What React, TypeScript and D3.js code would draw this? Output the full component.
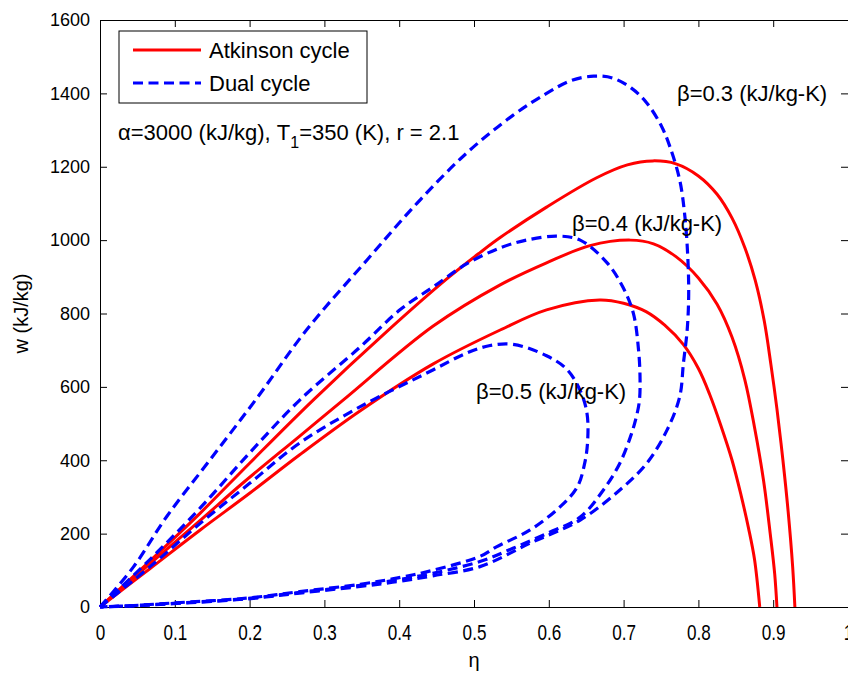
import { useRef, useEffect } from "react";
import * as d3 from "d3";

type Pt = [number, number];

// axis ticks
const xTicks = [0, 0.1, 0.2, 0.3, 0.4, 0.5, 0.6, 0.7, 0.8, 0.9, 1];
const yTicks = [0, 200, 400, 600, 800, 1000, 1200, 1400, 1600];

// Atkinson cycle, [eta, w]
const atkinson03: Pt[] = [
  [0, 0], [0.067, 126], [0.134, 256], [0.2, 392], [0.285, 564], [0.384, 752],
  [0.464, 895], [0.508, 966], [0.535, 1007], [0.597, 1090], [0.664, 1170],
  [0.705, 1205], [0.739, 1216], [0.77, 1208], [0.8, 1175], [0.825, 1125],
  [0.845, 1060], [0.862, 980], [0.876, 890], [0.888, 780], [0.897, 660],
  [0.905, 540], [0.913, 400], [0.92, 260], [0.926, 110], [0.929, 0],
];
const atkinson04: Pt[] = [
  [0, 0], [0.067, 118], [0.134, 236], [0.191, 338], [0.267, 466], [0.325, 564],
  [0.445, 765], [0.535, 878], [0.597, 938], [0.655, 985], [0.709, 1000],
  [0.74, 990], [0.77, 955], [0.8, 897], [0.825, 825], [0.845, 735],
  [0.862, 620], [0.875, 490], [0.887, 346], [0.896, 200], [0.902, 90],
  [0.905, 0],
];
const atkinson05: Pt[] = [
  [0, 0], [0.067, 105], [0.134, 210], [0.2, 310], [0.267, 415], [0.348, 535],
  [0.445, 662], [0.535, 755], [0.597, 810], [0.668, 837], [0.7, 828],
  [0.73, 805], [0.755, 768], [0.78, 715], [0.8, 650], [0.815, 580],
  [0.83, 495], [0.845, 400], [0.857, 305], [0.867, 215], [0.875, 130],
  [0.882, 0],
];

// Dual cycle loops, [eta, w]
const dual03: Pt[] = [
  [0, 0], [0.045, 110], [0.089, 246], [0.147, 401], [0.21, 570], [0.276, 755],
  [0.357, 946], [0.424, 1101], [0.49, 1237], [0.552, 1340], [0.597, 1400],
  [0.63, 1435], [0.66, 1447], [0.685, 1442], [0.71, 1415], [0.731, 1374],
  [0.751, 1309], [0.762, 1254], [0.775, 1164], [0.782, 1063], [0.786, 946],
  [0.787, 850], [0.785, 755], [0.78, 665], [0.775, 573], [0.758, 482],
  [0.731, 392], [0.695, 319], [0.642, 237], [0.575, 174], [0.508, 110],
  [0.445, 85], [0.4, 70], [0.348, 56], [0.267, 38], [0.196, 22], [0.098, 9],
  [0.045, 3], [0, 0],
];
const dual04: Pt[] = [
  [0, 0], [0.067, 130], [0.134, 270], [0.2, 420], [0.267, 564], [0.348, 709],
  [0.401, 810], [0.445, 872], [0.49, 935], [0.535, 979], [0.57, 1000],
  [0.611, 1011], [0.642, 1000], [0.678, 938], [0.699, 872], [0.713, 801],
  [0.72, 700], [0.722, 620], [0.721, 560], [0.716, 510], [0.709, 463],
  [0.695, 392], [0.673, 319], [0.642, 245], [0.597, 200], [0.552, 160],
  [0.508, 124], [0.445, 92], [0.4, 75], [0.348, 59], [0.267, 40], [0.196, 23],
  [0.098, 10], [0.045, 4], [0, 0],
];
const dual05: Pt[] = [
  [0, 0], [0.067, 110], [0.134, 228], [0.2, 337], [0.267, 447], [0.348, 546],
  [0.445, 646], [0.49, 692], [0.52, 712], [0.552, 716], [0.597, 685],
  [0.624, 648], [0.642, 590], [0.651, 529], [0.652, 455], [0.648, 392],
  [0.638, 327], [0.615, 273], [0.575, 210], [0.53, 164], [0.508, 138],
  [0.445, 100], [0.4, 80], [0.348, 62], [0.267, 42], [0.196, 24], [0.098, 11],
  [0.045, 4], [0, 0],
];

const legendLabels = ["Atkinson cycle", "Dual cycle"];

const W = 848;
const H = 675;
const FONT = "'Liberation Sans', Arial, Helvetica, sans-serif";

export default function App() {
  const svgRef = useRef<SVGSVGElement>(null);

  useEffect(() => {
    const svg = d3.select(svgRef.current);
    svg.selectAll("*").remove();

    const x = d3.scaleLinear().domain([0, 1]).range([100, 848]);
    const y = d3.scaleLinear().domain([0, 1600]).range([607, 20]);

    svg.append("rect").attr("width", W).attr("height", H).attr("fill", "#fff");

    // axes (MATLAB style box with inward ticks)
    const styleAxis = (g: any) => {
      g.select(".domain").attr("stroke", "#000").attr("stroke-width", 1);
      g.selectAll(".tick line").attr("stroke", "#000").attr("stroke-width", 1);
      g.attr("font-family", FONT).attr("font-size", 18);
      g.selectAll(".tick text").attr("fill", "#000");
    };

    svg.append("g")
      .attr("transform", `translate(0,${y(0)})`)
      .call(d3.axisBottom(x).tickValues(xTicks).tickSize(-7).tickSizeOuter(0).tickPadding(13).tickFormat((d: any) => String(d)))
      .call(styleAxis)
      .call((g: any) =>
        g.selectAll(".tick text")
          .attr("y", 0)
          .attr("dy", null)
          .attr("transform", "translate(0,33) scale(0.95,1.22)")
      );
    svg.append("g")
      .attr("transform", `translate(0,${y(1600)})`)
      .call(d3.axisTop(x).tickValues(xTicks).tickSize(-7).tickSizeOuter(0).tickFormat(() => ""))
      .call(styleAxis);
    svg.append("g")
      .attr("transform", `translate(${x(0)},0)`)
      .call(d3.axisLeft(y).tickValues(yTicks).tickSize(-7).tickSizeOuter(0).tickPadding(10).tickFormat((d: any) => String(d)))
      .call(styleAxis);
    svg.append("g")
      .attr("transform", `translate(${x(1)},0)`)
      .call(d3.axisRight(y).tickValues(yTicks).tickSize(-7).tickSizeOuter(0).tickFormat(() => ""))
      .call(styleAxis);

    const line = d3.line<Pt>()
      .x((d) => x(d[0]))
      .y((d) => y(d[1]))
      .curve(d3.curveCatmullRom.alpha(0.5));

    [atkinson03, atkinson04, atkinson05].forEach((data) => {
      svg.append("path")
        .attr("d", line(data))
        .attr("fill", "none")
        .attr("stroke", "#ff0000")
        .attr("stroke-width", 3)
        .attr("stroke-linejoin", "round");
    });
    [dual03, dual04, dual05].forEach((data) => {
      svg.append("path")
        .attr("d", line(data))
        .attr("fill", "none")
        .attr("stroke", "#0000ff")
        .attr("stroke-width", 3.2)
        .attr("stroke-dasharray", "10,5.5");
    });

    // legend
    const lg = svg.append("g");
    lg.append("rect")
      .attr("x", 119).attr("y", 31).attr("width", 248).attr("height", 72)
      .attr("fill", "#fff").attr("stroke", "#000").attr("stroke-width", 1);
    legendLabels.forEach((label, i) => {
      const ly = 50 + i * 33;
      lg.append("line")
        .attr("x1", 133).attr("x2", 201).attr("y1", ly).attr("y2", ly)
        .attr("stroke", i === 0 ? "#ff0000" : "#0000ff")
        .attr("stroke-width", 3)
        .attr("stroke-dasharray", i === 0 ? null : "10,5.5");
      lg.append("text")
        .attr("x", 209).attr("y", ly + 8)
        .attr("font-family", FONT).attr("font-size", 22)
        .text(label);
    });

    // annotations
    const ann = svg.append("text")
      .attr("x", 118).attr("y", 140)
      .attr("font-family", FONT).attr("font-size", 22);
    ann.append("tspan").text("α=3000 (kJ/kg), T");
    ann.append("tspan").attr("dy", 8).attr("font-size", 16).text("1");
    ann.append("tspan").attr("dy", -8).text("=350 (K), r = 2.1");

    const betaLabels: [string, number, number][] = [
      ["β=0.3 (kJ/kg-K)", 677, 101],
      ["β=0.4 (kJ/kg-K)", 572, 231],
      ["β=0.5 (kJ/kg-K)", 476, 399],
    ];
    betaLabels.forEach(([t, tx, ty]) => {
      svg.append("text")
        .attr("x", tx).attr("y", ty)
        .attr("font-family", FONT).attr("font-size", 22)
        .text(t);
    });

    // axis titles
    svg.append("text")
      .attr("x", x(0.5)).attr("y", 667)
      .attr("text-anchor", "middle")
      .attr("font-family", FONT).attr("font-size", 20)
      .text("η");
    svg.append("text")
      .attr("transform", `translate(28,${y(800)}) rotate(-90)`)
      .attr("text-anchor", "middle")
      .attr("font-family", FONT).attr("font-size", 20)
      .text("w (kJ/kg)");
  }, []);

  return (
    <svg
      ref={svgRef}
      width={W}
      height={H}
      style={{ position: "absolute", left: 0, top: 0, display: "block" }}
    />
  );
}
